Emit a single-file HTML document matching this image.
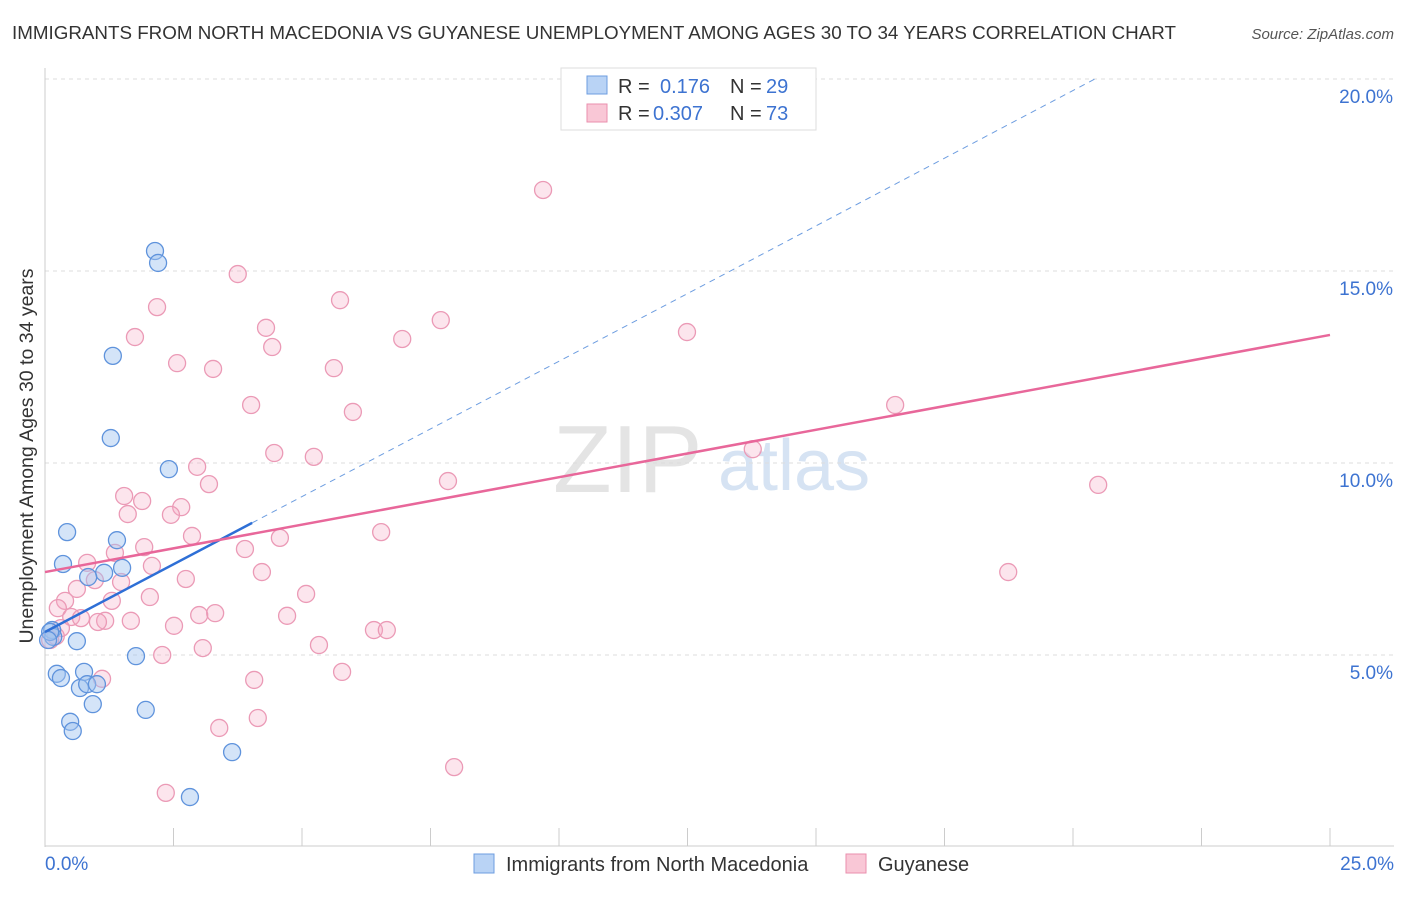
<!DOCTYPE html>
<html><head><meta charset="utf-8"><style>
body{margin:0;background:#fff;font-family:"Liberation Sans",sans-serif;}
svg text{font-family:"Liberation Sans",sans-serif;}
</style></head><body>
<svg id="chart" width="1406" height="892" xmlns="http://www.w3.org/2000/svg">
<text x="12" y="39" font-size="18.8" fill="#333">IMMIGRANTS FROM NORTH MACEDONIA VS GUYANESE UNEMPLOYMENT AMONG AGES 30 TO 34 YEARS CORRELATION CHART</text>
<text x="1394" y="39" font-size="15" fill="#555" text-anchor="end" font-style="italic">Source: ZipAtlas.com</text>
<text x="553" y="492" font-size="96" fill="#e4e4e4" font-family="Liberation Serif">ZIP</text>
<text x="718" y="490" font-size="72" fill="#d6e3f3">atlas</text>
<g id="grid"></g>
<g id="axes"></g>
<g id="marks"></g>
<text transform="translate(33,456) rotate(-90)" font-size="19.5" fill="#333" text-anchor="middle">Unemployment Among Ages 30 to 34 years</text>
<g>
<rect x="561" y="68" width="255" height="62" fill="#fff" stroke="#ddd"/>
<rect x="587" y="76" width="20" height="18" fill="#b9d3f5" stroke="#6d9de0"/>
<rect x="587" y="104" width="20" height="18" fill="#f9c7d6" stroke="#ea8fae"/>
<text x="618" y="93" font-size="20" fill="#333">R = </text><text x="660" y="93" font-size="20" fill="#3d73d1">0.176</text>
<text x="730" y="93" font-size="20" fill="#333">N = </text><text x="766" y="93" font-size="20" fill="#3d73d1">29</text>
<text x="618" y="120" font-size="20" fill="#333">R = </text><text x="653" y="120" font-size="20" fill="#3d73d1">0.307</text>
<text x="730" y="120" font-size="20" fill="#333">N = </text><text x="766" y="120" font-size="20" fill="#3d73d1">73</text>
</g>
<g>
<rect x="474" y="854" width="20" height="19" fill="#b9d3f5" stroke="#6d9de0"/>
<text x="506" y="871" font-size="20" fill="#333">Immigrants from North Macedonia</text>
<rect x="846" y="854" width="20" height="19" fill="#f9c7d6" stroke="#ea8fae"/>
<text x="878" y="871" font-size="20" fill="#333">Guyanese</text>
</g>
</svg>
<script>
const blueX=[2.14,2.20,1.32,1.28,2.41,0.43,1.40,0.35,1.50,1.15,0.84,0.14,0.16,0.62,1.77,0.23,0.76,0.31,0.68,0.82,1.01,0.93,1.96,0.49,0.54,3.64,2.82,0.10,0.06];
const blueY=[15.52,15.21,12.79,10.65,9.84,8.20,7.99,7.37,7.27,7.14,7.03,5.65,5.47,5.36,4.97,4.51,4.56,4.40,4.14,4.24,4.24,3.72,3.57,3.26,3.02,2.47,1.30,5.60,5.39];
const pinkX=[9.69,3.75,2.18,5.74,1.75,4.30,7.70,12.49,6.95,4.42,2.57,3.27,5.62,4.01,5.99,16.54,13.77,4.46,5.23,2.96,7.84,3.19,20.49,1.54,1.89,2.65,1.61,2.45,6.54,2.86,4.57,1.93,3.89,1.36,0.82,2.08,4.22,18.74,0.97,2.74,1.48,0.62,2.04,5.08,0.39,1.30,0.25,0.51,0.70,3.31,3.00,4.71,1.67,1.17,1.03,2.51,6.40,6.65,0.31,0.21,0.10,5.33,3.07,2.28,5.78,1.11,4.07,4.14,3.39,7.96,2.35];
const pinkY=[17.11,14.92,14.06,14.24,13.28,13.52,13.72,13.41,13.23,13.02,12.60,12.45,12.47,11.51,11.33,11.51,10.36,10.26,10.16,9.90,9.53,9.45,9.43,9.14,9.01,8.85,8.67,8.65,8.20,8.10,8.05,7.81,7.76,7.66,7.40,7.32,7.16,7.16,6.95,6.98,6.90,6.72,6.51,6.59,6.41,6.41,6.22,5.99,5.96,6.09,6.04,6.02,5.89,5.89,5.86,5.76,5.65,5.65,5.70,5.49,5.39,5.26,5.18,5.00,4.56,4.38,4.35,3.36,3.10,2.08,1.41];
const blueTrend=[5.6,0.705];
const pinkTrend=[7.16,0.247];
const yTicks=[5,10,15,20];
const yTickLabels=["5.0%","10.0%","15.0%","20.0%"];
const xTicks=[0,2.5,5,7.5,10,12.5,15,17.5,20,22.5,25];

const NS="http://www.w3.org/2000/svg";
const xs=v=>45+v*51.4;
const ys=v=>847-v*38.4;
function mk(tag,attrs,parent){const e=document.createElementNS(NS,tag);for(const k in attrs)e.setAttribute(k,attrs[k]);document.getElementById(parent).appendChild(e);return e;}

yTicks.forEach((t,i)=>{
 const l=mk('line',{x1:45,x2:1394,y1:ys(t),y2:ys(t),stroke:'#ddd','stroke-dasharray':'4,4'},'grid');
 
 
 const tx=mk('text',{x:1393,y:ys(t)+24,'font-size':19,fill:'#3d73d1','text-anchor':'end'},'axes');
 tx.textContent=yTickLabels[i];
 
 
});
const topLine=mk('line',{x1:45,x2:1394,y1:79,y2:79,stroke:'#ddd','stroke-dasharray':'4,4'},'grid');


const yAxisLine=mk('line',{x1:45,x2:45,y1:68,y2:847,stroke:'#ccc'},'axes');


const xAxisLine=mk('line',{x1:45,x2:1394,y1:846,y2:846,stroke:'#ccc'},'axes');


xTicks.forEach(t=>{
 const l=mk('line',{x1:xs(t),x2:xs(t),y1:828,y2:846,stroke:'#ccc'},'axes');
 
 
});
const xMinLabel=mk('text',{x:45,y:870,'font-size':19,fill:'#3d73d1'},'axes');xMinLabel.textContent='0.0%';


const xMaxLabel=mk('text',{x:1394,y:870,'font-size':19,fill:'#3d73d1','text-anchor':'end'},'axes');xMaxLabel.textContent='25.0%';



pinkX.forEach((v,i)=>{
 const c=mk('circle',{cx:xs(v),cy:ys(pinkY[i]),r:8.5,fill:'rgba(246,170,195,0.3)',stroke:'#eb9ab6','stroke-width':1.3},'marks');
 
 
});
blueX.forEach((v,i)=>{
 const c=mk('circle',{cx:xs(v),cy:ys(blueY[i]),r:8.5,fill:'rgba(160,195,240,0.45)',stroke:'#5f93dc','stroke-width':1.3},'marks');
 
 
});
const bEndSolid=4.03;
const bEndDash=(20.0-blueTrend[0])/blueTrend[1];
const bd=mk('line',{x1:xs(bEndSolid),y1:ys(blueTrend[0]+blueTrend[1]*bEndSolid),x2:xs(bEndDash),y2:ys(blueTrend[0]+blueTrend[1]*bEndDash),stroke:'#6d9de0','stroke-width':1,'stroke-dasharray':'6,5'},'marks');


const bl=mk('line',{x1:xs(0),y1:ys(blueTrend[0]),x2:xs(bEndSolid),y2:ys(blueTrend[0]+blueTrend[1]*bEndSolid),stroke:'#2e6fd6','stroke-width':2.5},'marks');


const pl=mk('line',{x1:xs(0),y1:ys(pinkTrend[0]),x2:xs(25),y2:ys(pinkTrend[0]+pinkTrend[1]*25),stroke:'#e8679a','stroke-width':2.5},'marks');


</script>
</body></html>
